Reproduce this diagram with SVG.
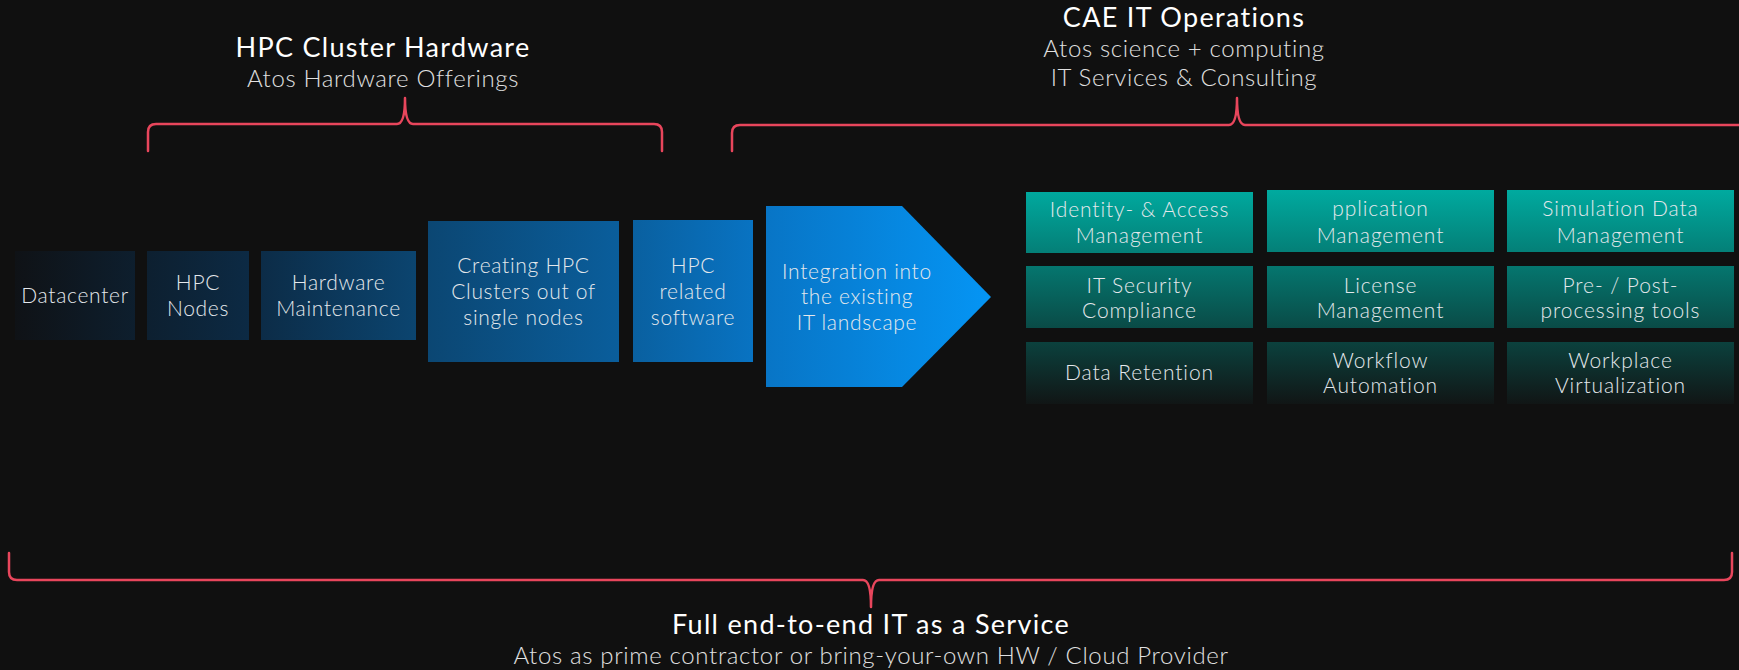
<svg xmlns="http://www.w3.org/2000/svg" width="1739" height="670" viewBox="0 0 1739 670">
<defs>
<linearGradient id="blueGrad" gradientUnits="userSpaceOnUse" x1="15" y1="0" x2="991" y2="0">
<stop offset="0" stop-color="#0f1216"/>
<stop offset="0.24" stop-color="#0c2a44"/>
<stop offset="0.42" stop-color="#0b4672"/>
<stop offset="0.62" stop-color="#0a5e9c"/>
<stop offset="0.77" stop-color="#0875c6"/>
<stop offset="1" stop-color="#0595f4"/>
</linearGradient>
<linearGradient id="tealGrad" gradientUnits="userSpaceOnUse" x1="0" y1="190" x2="0" y2="406">
<stop offset="0" stop-color="#00aa9f"/>
<stop offset="0.5" stop-color="#07605a"/>
<stop offset="1" stop-color="#111414"/>
</linearGradient>
<style>
.bg{fill:#101010}
.hw{fill:url(#blueGrad)}
.svc{fill:url(#tealGrad)}
.brace{fill:none;stroke:#e8465c;stroke-width:2.5;stroke-linejoin:round;stroke-linecap:round}
.t{font-family:Lato,"Open Sans","Liberation Sans",sans-serif;fill:#e4e8ec;font-weight:300;font-size:21px;letter-spacing:0.7px;text-anchor:middle}
.g{font-size:21px;letter-spacing:0.9px}
.h1{font-family:Lato,"Open Sans","Liberation Sans",sans-serif;fill:#ffffff;font-weight:400;font-size:27px;letter-spacing:1.3px;text-anchor:middle}
.h2{font-family:Lato,"Open Sans","Liberation Sans",sans-serif;fill:#e0e0e0;font-weight:300;font-size:24px;letter-spacing:0.65px;text-anchor:middle}
</style>
</defs>
<rect class="bg" x="0" y="0" width="1739" height="670"/>

<g id="title-hpc">
<text class="h1" x="383" y="57">HPC Cluster Hardware</text>
<text class="h2" x="383" y="87">Atos Hardware Offerings</text>
</g>
<g id="title-cae">
<text class="h1" x="1184" y="27">CAE IT Operations</text>
<text class="h2" x="1184" y="57">Atos science + computing</text>
<text class="h2" x="1184" y="86">IT Services &amp; Consulting</text>
</g>
<g id="title-full">
<text class="h1" x="871" y="634">Full end-to-end IT as a Service</text>
<text class="h2" x="871" y="664">Atos as prime contractor or bring-your-own HW / Cloud Provider</text>
</g>

<g id="connectors">
<path class="brace" d="M148,151 L148,132 Q148,124 156,124 L397,124 Q405,124 405,98 Q405,124 413,124 L654,124 Q662,124 662,132 L662,151"/>
<path class="brace" d="M732,151 L732,133 Q732,125 740,125 L1229,125 Q1237,125 1237,98 Q1237,125 1245,125 L1745,125"/>
<path class="brace" d="M9,553 L9,572 Q9,580 17,580 L863,580 Q871,580 871,607 Q871,580 879,580 L1724,580 Q1732,580 1732,572 L1732,553"/>
</g>

<g id="datacenter">
<rect class="hw" x="15" y="251" width="120" height="89"/>
<text class="t" x="75" y="303">Datacenter</text>
</g>
<g id="hpc-nodes">
<rect class="hw" x="147" y="251" width="102" height="89"/>
<text class="t" x="198" y="290">HPC</text>
<text class="t" x="198" y="316">Nodes</text>
</g>
<g id="hardware-maintenance">
<rect class="hw" x="261" y="251" width="155" height="89"/>
<text class="t" x="338.5" y="290">Hardware</text>
<text class="t" x="338.5" y="316">Maintenance</text>
</g>
<g id="creating-clusters">
<rect class="hw" x="428" y="221" width="191" height="141"/>
<text class="t" x="523.5" y="273">Creating HPC</text>
<text class="t" x="523.5" y="299">Clusters out of</text>
<text class="t" x="523.5" y="325">single nodes</text>
</g>
<g id="hpc-software">
<rect class="hw" x="633" y="220" width="120" height="142"/>
<text class="t" x="693" y="273">HPC</text>
<text class="t" x="693" y="299">related</text>
<text class="t" x="693" y="325">software</text>
</g>
<g id="integration">
<polygon class="hw" points="766,206 902,206 991,297 902,387 766,387"/>
<text class="t" x="857" y="279">Integration into</text>
<text class="t" x="857" y="304">the existing</text>
<text class="t" x="857" y="330">IT landscape</text>
</g>

<g id="identity-access">
<rect class="svc" x="1026" y="192" width="227" height="61"/>
<text class="t g" x="1139.5" y="217">Identity- &amp; Access</text>
<text class="t g" x="1139.5" y="243">Management</text>
</g>
<g id="application-management">
<rect class="svc" x="1267" y="190" width="227" height="62"/>
<text class="t g" x="1380.5" y="216">pplication</text>
<text class="t g" x="1380.5" y="243">Management</text>
</g>
<g id="simulation-data">
<rect class="svc" x="1507" y="190" width="227" height="62"/>
<text class="t g" x="1620.5" y="216">Simulation Data</text>
<text class="t g" x="1620.5" y="243">Management</text>
</g>
<g id="it-security">
<rect class="svc" x="1026" y="266" width="227" height="62"/>
<text class="t g" x="1139.5" y="293">IT Security</text>
<text class="t g" x="1139.5" y="318">Compliance</text>
</g>
<g id="license-management">
<rect class="svc" x="1267" y="266" width="227" height="62"/>
<text class="t g" x="1380.5" y="293">License</text>
<text class="t g" x="1380.5" y="318">Management</text>
</g>
<g id="pre-post">
<rect class="svc" x="1507" y="266" width="227" height="62"/>
<text class="t g" x="1620.5" y="293">Pre- / Post-</text>
<text class="t g" x="1620.5" y="318">processing tools</text>
</g>
<g id="data-retention">
<rect class="svc" x="1026" y="342" width="227" height="62"/>
<text class="t g" x="1139.5" y="380">Data Retention</text>
</g>
<g id="workflow-automation">
<rect class="svc" x="1267" y="342" width="227" height="62"/>
<text class="t g" x="1380.5" y="368">Workflow</text>
<text class="t g" x="1380.5" y="393">Automation</text>
</g>
<g id="workplace-virtualization">
<rect class="svc" x="1507" y="342" width="227" height="62"/>
<text class="t g" x="1620.5" y="368">Workplace</text>
<text class="t g" x="1620.5" y="393">Virtualization</text>
</g>
</svg>
